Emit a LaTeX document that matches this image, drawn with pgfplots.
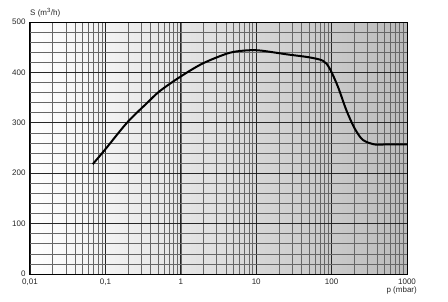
\documentclass[border=0pt]{standalone}
\usepackage{pgfplots}
\pgfplotsset{compat=1.18}
\usepackage{fontspec}
\setmainfont{Liberation Sans}
\begin{document}
\begin{tikzpicture}
\begin{axis}[
  set layers,
  scale only axis,
  width=377pt, height=252pt,
  xmode=log,
  xmin=0.01, xmax=1000,
  ymin=0, ymax=500,
  xtick={0.01,0.1,1,10,100,1000},
  xticklabels={0{,}01,0{,}1,1,10,100,1000},
  ytick={0,100,200,300,400,500},
  minor y tick num=4,
  major tick length=0pt, minor tick length=0pt,
  grid=both,
  major grid style={black!85, line width=0.9pt},
  minor grid style={black!60, line width=0.6pt},
  axis line style={black, line width=1pt},
  tick label style={font=\fontsize{8}{9}\selectfont, text=black!85},
  /pgf/number format/assume math mode=true,
  xticklabel style={yshift=-1.5pt},
  yticklabel style={xshift=-1pt},
  clip=false,
]
\begin{pgfonlayer}{axis background}
\shade[left color=white, right color=black!6] (axis cs:0.01,0) rectangle (axis cs:0.1,500);
\shade[left color=black!5, right color=black!11] (axis cs:0.1,0) rectangle (axis cs:1,500);
\shade[left color=black!10, right color=black!16] (axis cs:1,0) rectangle (axis cs:10,500);
\shade[left color=black!16, right color=black!22] (axis cs:10,0) rectangle (axis cs:100,500);
\shade[left color=black!21, right color=black!27] (axis cs:100,0) rectangle (axis cs:1000,500);
\end{pgfonlayer}
\addplot[black, line width=2pt, smooth, tension=0.5] coordinates {
(0.068,218) (0.098,246) (0.193,300) (0.355,339) (0.527,363) (1.0,392)
(1.97,418) (4.46,439) (8.2,444) (12,443) (25,436) (50,430) (77,423)
(94,408) (121,372) (157,325) (202,289) (260,266) (372,257) (500,257) (1000,257)
};
\node[anchor=south west, font=\fontsize{8}{9}\selectfont, text=black!85, inner sep=0pt]
  at ([yshift=5pt]rel axis cs:0,1) {S (m\textsuperscript{3}/h)};
\node[anchor=north east, font=\fontsize{8}{9}\selectfont, text=black!85, inner sep=0pt]
  at ([xshift=10pt,yshift=-13pt]rel axis cs:1,0) {p (mbar)};
\end{axis}
\path[use as bounding box] ([xshift=-30pt,yshift=-27pt]current axis.south west) rectangle ++(448pt,301pt);
\end{tikzpicture}
\end{document}
